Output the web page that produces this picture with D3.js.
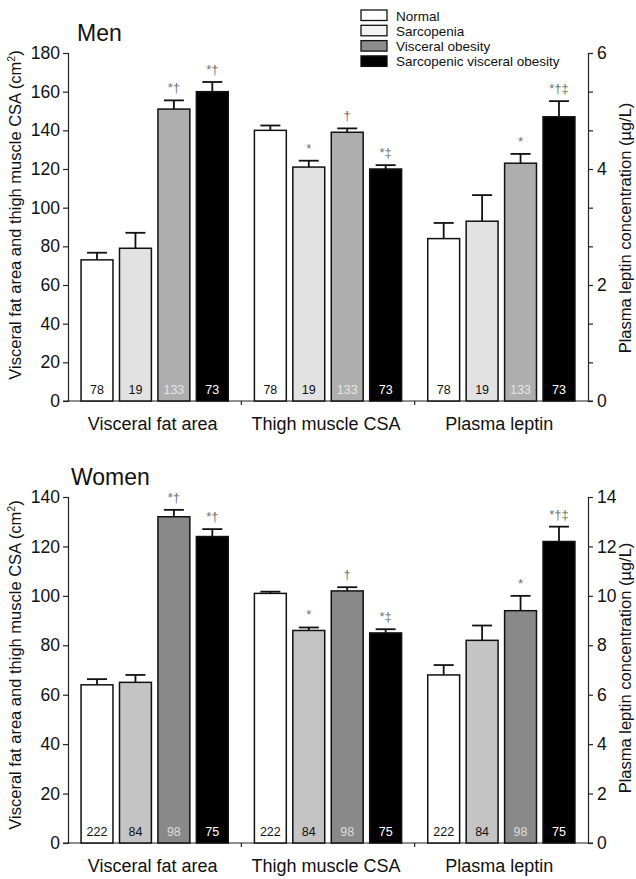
<!DOCTYPE html>
<html>
<head>
<meta charset="utf-8">
<script src="https://cdn.jsdelivr.net/npm/d3@7"></script>
<style>
  body { margin: 0; background: #fff; }
  svg { display: block; font-family: 'Liberation Sans', Arial, sans-serif; }
</style>
</head>
<body>
<div id="chart"></div>
<script>
// ── data ──
const measures = ['Visceral fat area', 'Thigh muscle CSA', 'Plasma leptin'];
const groups = ['Normal', 'Sarcopenia', 'Visceral obesity', 'Sarcopenic visceral obesity'];

const menMeans = [[73, 79, 151, 160], [140, 121, 139, 120], [2.8, 3.1, 4.1, 4.9]];
const menErrs = [[3.7, 8, 4.5, 5], [2.5, 3.3, 2, 2], [0.27, 0.45, 0.16, 0.27]];
const menN = [78, 19, 133, 73];
const menSig = [['', '', '*†', '*†'], ['', '*', '†', '*‡'], ['', '', '*', '*†‡']];

const womenMeans = [[64, 65, 132, 124], [101, 86, 102, 85], [6.8, 8.2, 9.4, 12.2]];
const womenErrs = [[2.3, 3, 2.8, 3], [0.7, 1.2, 1.5, 1.5], [0.4, 0.6, 0.6, 0.6]];
const womenN = [222, 84, 98, 75];
const womenSig = [['', '', '*†', '*†'], ['', '*', '†', '*‡'], ['', '', '*', '*†‡']];

const menLeftTicks = [0, 20, 40, 60, 80, 100, 120, 140, 160, 180];
const menRightLabels = [0, 2, 4, 6];
const womenLeftTicks = [0, 20, 40, 60, 80, 100, 120, 140];
const womenRightLabels = [0, 2, 4, 6, 8, 10, 12, 14];

const legendFill = ['#ffffff', '#f4f4f4', '#8c8c8c', '#000000'];

// ── layout ──
const W = 636, H = 879;
const xL = 68, xR = 588;
const FONT = "'Liberation Sans', Arial, sans-serif";

const svg = d3.select('#chart').append('svg')
  .attr('width', W).attr('height', H);

const outer = d3.scaleBand().domain(measures).range([xL, xR]).padding(0);
const inner = d3.scaleBand().domain(groups).range([0, outer.bandwidth()])
  .paddingInner(0.17).paddingOuter(0.34);

function panel(cfg) {
  const g = svg.append('g');
  const yL = d3.scaleLinear().domain([0, cfg.leftMax]).range([cfg.y0, cfg.yTop]);
  const yR = d3.scaleLinear().domain([0, cfg.rightMax]).range([cfg.y0, cfg.yTop]);

  // title
  g.append('text')
    .attr('x', cfg.titleX).attr('y', cfg.titleY)
    .attr('font-size', 23).attr('fill', '#111')
    .text(cfg.title);

  // left axis
  g.append('g')
    .attr('transform', `translate(${xL},0)`)
    .call(d3.axisLeft(yL).tickValues(cfg.leftTicks).tickSize(5).tickPadding(3))
    .call(a => a.select('.domain').attr('stroke', '#222').attr('stroke-width', 1.2))
    .call(a => a.selectAll('.tick line').attr('stroke', '#222').attr('stroke-width', 1.2))
    .call(a => a.selectAll('.tick text').attr('font-size', 17.5).attr('fill', '#111')
      .attr('font-family', FONT));

  // right axis: minor ticks aligned with left ticks, labels at cfg.rightLabels
  const rightTicks = cfg.leftTicks.map(v => v * cfg.rightMax / cfg.leftMax);
  const labelled = new Set(cfg.rightLabels.map(v => v.toFixed(4)));
  g.append('g')
    .attr('transform', `translate(${xR},0)`)
    .call(d3.axisRight(yR).tickValues(rightTicks).tickSize(5).tickPadding(4)
      .tickFormat(v => labelled.has(v.toFixed(4)) ? d3.format('d')(v) : ''))
    .call(a => a.select('.domain').attr('stroke', '#222').attr('stroke-width', 1.2))
    .call(a => a.selectAll('.tick line').attr('stroke', '#222').attr('stroke-width', 1.2))
    .call(a => a.selectAll('.tick text').attr('font-size', 17.5).attr('fill', '#111')
      .attr('font-family', FONT));

  // bottom axis with group separators
  const sep = [outer(measures[1]), outer(measures[2])];
  g.append('line')
    .attr('x1', xL - 5).attr('x2', xR + 5)
    .attr('y1', cfg.y0).attr('y2', cfg.y0)
    .attr('stroke', '#222').attr('stroke-width', 1.2);
  sep.forEach(s => {
    g.append('line')
      .attr('x1', s).attr('x2', s)
      .attr('y1', cfg.y0).attr('y2', cfg.y0 + 4)
      .attr('stroke', '#222').attr('stroke-width', 1.2);
  });
  measures.forEach(m => {
    g.append('text')
      .attr('x', outer(m) + outer.bandwidth() / 2 - 2)
      .attr('y', cfg.y0 + 29)
      .attr('text-anchor', 'middle')
      .attr('font-size', 18).attr('fill', '#111')
      .text(m);
  });

  // bars
  measures.forEach((m, mi) => {
    const y = mi === 2 ? yR : yL;
    groups.forEach((grp, gi) => {
      const x = outer(m) + inner(grp);
      const bw = inner.bandwidth();
      const v = cfg.means[mi][gi];
      const e = cfg.errs[mi][gi];
      const cx = x + bw / 2;

      // error bar (upper only)
      g.append('line')
        .attr('x1', cx).attr('x2', cx)
        .attr('y1', y(v)).attr('y2', y(v + e))
        .attr('stroke', '#111').attr('stroke-width', 1.8);
      g.append('line')
        .attr('x1', cx - 10).attr('x2', cx + 10)
        .attr('y1', y(v + e)).attr('y2', y(v + e))
        .attr('stroke', '#111').attr('stroke-width', 1.8);

      g.append('rect')
        .attr('x', x).attr('y', y(v))
        .attr('width', bw).attr('height', cfg.y0 - y(v))
        .attr('fill', cfg.fills[gi])
        .attr('stroke', '#111').attr('stroke-width', 1.5);

      // n labels
      g.append('text')
        .attr('x', cx).attr('y', cfg.y0 - 7)
        .attr('text-anchor', 'middle')
        .attr('font-size', 12.5)
        .attr('fill', cfg.nColors[gi])
        .text(cfg.n[gi]);

      // significance markers
      const s = cfg.sig[mi][gi];
      if (s) {
        g.append('text')
          .attr('x', cx).attr('y', y(v + e) - 8)
          .attr('text-anchor', 'middle')
          .attr('font-size', 13).attr('fill', '#707070')
          .text(s);
      }
    });
  });

  // axis titles
  const lt = g.append('text')
    .attr('transform', `translate(21,${cfg.leftLabelY}) rotate(-90)`)
    .attr('text-anchor', 'middle')
    .attr('font-size', 16.5).attr('fill', '#111');
  lt.append('tspan').text('Visceral fat area and thigh muscle CSA (cm');
  lt.append('tspan').attr('baseline-shift', 'super').attr('font-size', 10.5).text('2');
  lt.append('tspan').text(')');

  g.append('text')
    .attr('transform', `translate(631,${cfg.rightLabelY}) rotate(-90)`)
    .attr('text-anchor', 'middle')
    .attr('font-size', 16.5).attr('fill', '#111')
    .text('Plasma leptin concentration (µg/L)');
}

panel({
  title: 'Men', titleX: 77, titleY: 41,
  y0: 401, yTop: 53, leftMax: 180, rightMax: 6,
  leftTicks: menLeftTicks, rightLabels: menRightLabels,
  means: menMeans, errs: menErrs, n: menN, sig: menSig,
  fills: ['#ffffff', '#e2e2e2', '#aeaeae', '#000000'],
  nColors: ['#111', '#111', '#e6e6e6', '#ffffff'],
  leftLabelY: 215, rightLabelY: 228,
});

panel({
  title: 'Women', titleX: 71, titleY: 485,
  y0: 843, yTop: 497, leftMax: 140, rightMax: 14,
  leftTicks: womenLeftTicks, rightLabels: womenRightLabels,
  means: womenMeans, errs: womenErrs, n: womenN, sig: womenSig,
  fills: ['#ffffff', '#c4c4c4', '#898989', '#000000'],
  nColors: ['#111', '#111', '#dddddd', '#ffffff'],
  leftLabelY: 665, rightLabelY: 668,
});

// legend
const legend = svg.append('g').attr('transform', 'translate(361,10)');
groups.forEach((grp, i) => {
  legend.append('rect')
    .attr('x', 0).attr('y', i * 15.3)
    .attr('width', 26).attr('height', 10.5)
    .attr('fill', legendFill[i])
    .attr('stroke', '#111').attr('stroke-width', 1.3);
  legend.append('text')
    .attr('x', 35).attr('y', i * 15.3 + 10.5)
    .attr('font-size', 13.5).attr('fill', '#111')
    .text(grp);
});
</script>
</body>
</html>
